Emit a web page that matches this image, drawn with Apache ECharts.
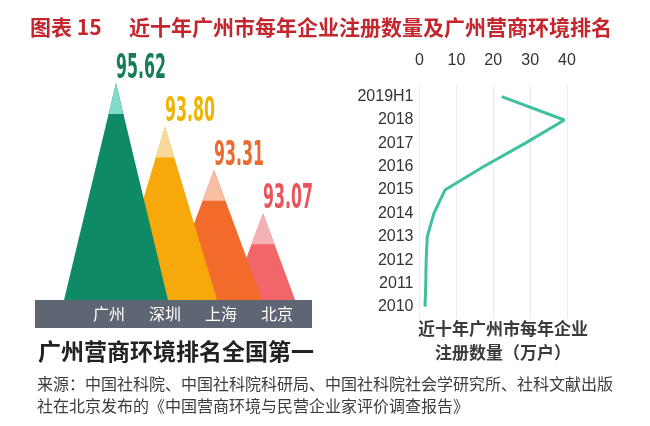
<!DOCTYPE html>
<html><head><meta charset="utf-8">
<script src="https://cdn.jsdelivr.net/npm/echarts@6/dist/echarts.min.js"></script>
<style>html,body{margin:0;padding:0;background:#fff}#c{width:650px;height:426px}</style>
</head><body><div id="c"></div>
<script>
// ---- data ----
const cities = ['广州', '深圳', '上海', '北京'];
const scores = [95.62, 93.80, 93.31, 93.07];
const years = ['2010', '2011', '2012', '2013', '2014', '2015', '2016', '2017', '2018', '2019H1'];
const registrations = [1.5, 1.7, 1.8, 2.1, 3.9, 6.9, 17.3, 28.6, 39.3, 22.3];
const xTicks = [0, 10, 20, 30, 40];

// ---- styles ----
const bodyColors = ['#0f8a67', '#f7a90b', '#f36b2b', '#f26568'];
const capColors = ['#80dcc8', '#f8d99a', '#f7bea3', '#f4b2b4'];
const labelColors = ['#187c5c', '#f0b400', '#ec6a2f', '#e8565c'];
const CJK = '"Noto Sans CJK SC","Liberation Sans",sans-serif';
const LAT = '"Liberation Sans","Noto Sans CJK SC",sans-serif';
const NUM_FONT = 'bold 32px "Liberation Sans Narrow","DejaVu Sans Condensed","Liberation Sans",sans-serif';

// peak level derived from ranking of scores (1st = highest peak)
const order = scores.map((s, i) => i).sort((a, b) => scores[b] - scores[a]);
const level = new Array(scores.length);
order.forEach((ci, r) => { level[ci] = scores.length - r; });

const mctx = document.createElement('canvas').getContext('2d');
mctx.font = NUM_FONT;

function renderMountain(params, api) {
  const i = params.dataIndex;
  const apex = api.coord([i, api.value(1)]);
  const base = api.coord([i, -1]);
  const h = base[1] - apex[1];
  const hw = Math.min(52, h * 0.37);
  const capH = 31;
  const r = capH / h;
  const cx = apex[0];
  const txt = scores[i].toFixed(2);
  const w = mctx.measureText(txt).width;
  const s = 50 / w;
  const z = 100 - i * 10;
  return {
    type: 'group',
    children: [
      { type: 'polygon', z2: z, shape: { points: [[cx - hw, base[1]], [cx, apex[1]], [cx + hw, base[1]]] }, style: { fill: bodyColors[i] } },
      { type: 'polygon', z2: z + 1, shape: { points: [[cx - hw * r, apex[1] + capH], [cx, apex[1]], [cx + hw * r, apex[1] + capH]] }, style: { fill: capColors[i] } },
      { type: 'text', z2: 200, x: cx + 25, y: apex[1] - 14, scaleX: s, scaleY: 1.08, style: { text: txt, font: NUM_FONT, fill: labelColors[i], align: 'center', verticalAlign: 'middle' } }
    ]
  };
}

const chart = echarts.init(document.getElementById('c'), null, { renderer: 'canvas' });
chart.setOption({
  animation: false,
  backgroundColor: '#ffffff',
  textStyle: { fontFamily: LAT },
  title: [
    { text: '图表 15', left: 25, top: 12, textStyle: { fontFamily: CJK, fontSize: 21, fontWeight: 'bold', color: '#c4262e' } },
    { text: '近十年广州市每年企业注册数量及广州营商环境排名', left: 124, top: 12, textStyle: { fontFamily: CJK, fontSize: 21, fontWeight: 'bold', color: '#c4262e' } }
  ],
  graphic: [
    { type: 'rect', left: 35, top: 300, shape: { width: 277, height: 28 }, style: { fill: '#5e6573' }, z: 0 },
    { type: 'text', left: 38, top: 340, style: { text: '广州营商环境排名全国第一', font: 'bold 23px ' + CJK, fill: '#222' } },
    { type: 'text', left: 37, top: 373, style: { text: '来源：中国社科院、中国社科院科研局、中国社科院社会学研究所、社科文献出版\n社在北京发布的《中国营商环境与民营企业家评价调查报告》', font: '16px ' + CJK, fill: '#3c3c3c', lineHeight: 22 } },
    { type: 'text', x: 503, y: 341, style: { text: '近十年广州市每年企业\n注册数量（万户）', font: 'bold 17px ' + CJK, fill: '#3a3a3a', lineHeight: 24, align: 'center', verticalAlign: 'middle' } }
  ],
  grid: [
    { left: 91.5, width: 196, top: 83, height: 217 },
    { left: 81, width: 224, top: 300, height: 14 },
    { left: 419.5, right: 83, top: 85, bottom: 107.5 }
  ],
  xAxis: [
    { gridIndex: 0, type: 'category', data: cities, show: false },
    { gridIndex: 1, type: 'category', data: cities, position: 'bottom', axisLine: { show: false }, axisTick: { show: false },
      axisLabel: { margin: 0, verticalAlign: 'middle', color: '#ffffff', fontSize: 16, fontFamily: CJK } },
    { gridIndex: 2, type: 'value', position: 'top', min: xTicks[0], max: xTicks[xTicks.length - 1], interval: xTicks[1] - xTicks[0],
      axisLine: { show: false }, axisTick: { show: false },
      axisLabel: { margin: 16, color: '#333', fontSize: 16 },
      splitLine: { show: true, lineStyle: { color: '#ececec', width: 1 } } }
  ],
  yAxis: [
    { gridIndex: 0, type: 'value', min: -1, max: 4, show: false },
    { gridIndex: 1, type: 'value', show: false },
    { gridIndex: 2, type: 'category', data: years, axisLine: { show: false }, axisTick: { show: false },
      axisLabel: { margin: 6, color: '#333', fontSize: 16 } }
  ],
  series: [
    { type: 'custom', xAxisIndex: 0, yAxisIndex: 0, renderItem: renderMountain, clip: false, z: 5,
      data: cities.map((c, i) => [i, level[i], scores[i]]) },
    { type: 'line', xAxisIndex: 2, yAxisIndex: 2, data: registrations.map((v, i) => [v, years[i]]),
      showSymbol: false, symbol: 'none', lineStyle: { color: '#3fc09f', width: 3 } }
  ]
});
</script></body></html>
